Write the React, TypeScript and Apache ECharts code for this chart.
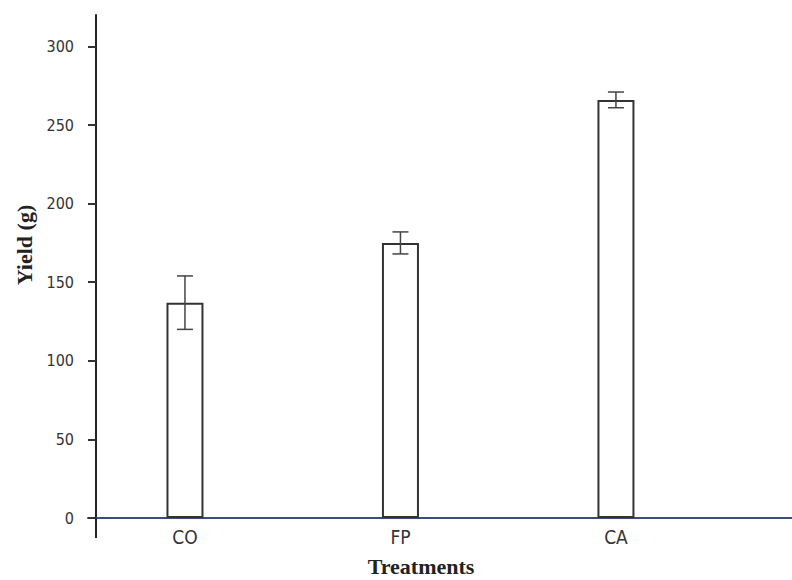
import React, { useEffect, useRef } from "react";
import * as echarts from "echarts";

const categories = ["CO", "FP", "CA"];
const yields = [137, 175, 266];
const errors = [17, 7, 5];
const yTicks = [0, 50, 100, 150, 200, 250, 300];

export default function App() {
  const ref = useRef<HTMLDivElement>(null);
  useEffect(() => {
    if (!ref.current) return;
    const chart = echarts.init(ref.current, null, { renderer: "svg" });
    const labelFont = "'Liberation Sans Narrow', 'DejaVu Sans Condensed', sans-serif";
    const barData = yields.map((v, i) => [i, v]);
    const errData = yields.map((v, i) => [i, v - errors[i], v + errors[i]]);
    chart.setOption({
      animation: false,
      backgroundColor: "#ffffff",
      grid: { left: 88, right: 0, top: 15, bottom: 62, outerBoundsMode: "none", containLabel: false },
      graphic: [
        {
          type: "line",
          shape: { x1: 96, y1: 518, x2: 96, y2: 538 },
          style: { stroke: "#222", lineWidth: 2 },
          z: 10,
        },
      ],
      xAxis: {
        type: "value",
        min: -0.45,
        max: 2.817,
        splitLine: { show: false },
        axisLine: {
          onZero: false,
          lineStyle: { width: 2, color: "#3a4f78" },
        },
        axisTick: { show: false },
        axisLabel: {
          customValues: [0, 1, 2],
          formatter: (v: number) => categories[Math.round(v)] ?? "",
          color: "#333",
          fontFamily: labelFont,
          fontSize: 19,
          margin: 9,
        },
        name: "Treatments",
        nameLocation: "middle",
        nameGap: 37,
        nameTextStyle: {
          fontFamily: "'Liberation Serif', serif",
          fontWeight: "bold",
          fontSize: 22,
          color: "#222",
          padding: [0, 38, 0, 0],
        },
      },
      yAxis: {
        type: "value",
        min: 0,
        max: 320,
        offset: -8,
        splitLine: { show: false },
        axisLine: { show: true, onZero: false, lineStyle: { color: "#222", width: 2 } },
        axisTick: {
          show: true,
          customValues: yTicks,
          length: 8,
          lineStyle: { color: "#333", width: 2 },
        },
        axisLabel: {
          customValues: yTicks,
          color: "#333",
          fontFamily: labelFont,
          fontSize: 16,
          margin: 22,
        },
        name: "Yield (g)",
        nameLocation: "middle",
        nameGap: 61,
        nameTextStyle: {
          fontFamily: "'Liberation Serif', serif",
          fontWeight: "bold",
          fontSize: 22,
          color: "#222",
          padding: [0, 0, 0, 43],
        },
      },
      series: [
        {
          type: "bar",
          data: barData,
          barWidth: 37,
          itemStyle: { color: "#ffffff", borderColor: "#333", borderWidth: 2 },
        },
        {
          type: "custom",
          data: errData,
          renderItem: (params: any, api: any) => {
            const x = api.value(0);
            const lo = api.coord([x, api.value(1)]);
            const hi = api.coord([x, api.value(2)]);
            const hw = 8;
            const style = { stroke: "#444", lineWidth: 1.5 };
            return {
              type: "group",
              children: [
                { type: "line", shape: { x1: lo[0], y1: lo[1], x2: hi[0], y2: hi[1] }, style },
                { type: "line", shape: { x1: lo[0] - hw, y1: lo[1], x2: lo[0] + hw, y2: lo[1] }, style },
                { type: "line", shape: { x1: hi[0] - hw, y1: hi[1], x2: hi[0] + hw, y2: hi[1] }, style },
              ],
            };
          },
          z: 5,
        },
      ],
    });
    return () => chart.dispose();
  }, []);
  return <div ref={ref} style={{ width: 792, height: 580, position: "absolute", left: 0, top: 0 }} />;
}
